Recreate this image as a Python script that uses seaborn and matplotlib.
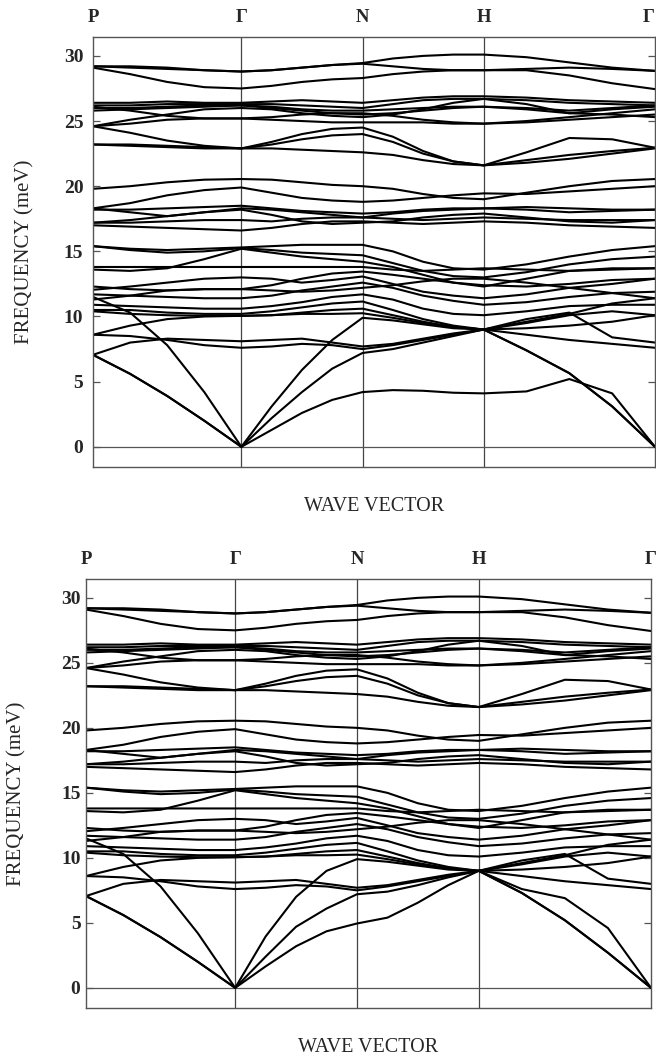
import numpy as np
import pandas as pd
import matplotlib
matplotlib.use("Agg")
import matplotlib.pyplot as plt
import seaborn as sns

# ---------------- data ----------------
k_labels = ["P", "Γ", "N", "H", "Γ"]
k_dist = [0.0, 0.866, 1.573, 2.280, 3.280]      # path length of high-symmetry points
y_ticks = [0, 5, 10, 15, 20, 25, 30]
n_per_segment = 4                                 # samples per segment (17 points per band)

# bands common to both panels (values at P,..,Γ,..,N,..,H,..,Γ), meV
upper_bands = [
    [29.2, 29.2, 29.1, 28.9, 28.8, 28.9, 29.1, 29.3, 29.45, 29.8, 30.0, 30.1, 30.1, 29.9, 29.5, 29.1, 28.85],
    [29.1, 28.6, 28.0, 27.6, 27.5, 27.7, 28.0, 28.2, 28.3, 28.6, 28.8, 28.9, 28.9, 28.9, 28.5, 27.9, 27.45],
    [29.2, 29.1, 29.0, 28.9, 28.8, 28.9, 29.1, 29.3, 29.4, 29.2, 29.0, 28.9, 28.9, 29.0, 29.1, 29.0, 28.85],
    [26.4, 26.4, 26.5, 26.4, 26.4, 26.5, 26.6, 26.5, 26.4, 26.6, 26.8, 26.9, 26.9, 26.8, 26.6, 26.5, 26.4],
    [26.2, 26.2, 26.3, 26.3, 26.3, 26.3, 26.2, 26.1, 26.0, 26.3, 26.6, 26.7, 26.7, 26.6, 26.4, 26.3, 26.2],
    [26.0, 26.0, 26.1, 26.2, 26.2, 26.1, 25.9, 25.8, 25.8, 25.9, 26.0, 26.1, 26.1, 26.0, 25.8, 26.0, 26.2],
    [25.8, 25.9, 26.0, 26.1, 26.2, 26.0, 25.8, 25.6, 25.5, 25.6, 25.8, 26.0, 26.1, 25.9, 25.6, 25.9, 26.1],
    [24.6, 25.1, 25.5, 25.9, 26.0, 25.9, 25.6, 25.4, 25.3, 25.5, 25.9, 26.4, 26.7, 26.3, 25.6, 25.5, 25.3],
    [24.6, 24.8, 25.1, 25.2, 25.2, 25.1, 25.0, 24.9, 24.9, 24.9, 24.9, 24.8, 24.8, 24.9, 25.1, 25.3, 25.5],
    [26.1, 25.8, 25.4, 25.2, 25.2, 25.3, 25.5, 25.6, 25.6, 25.4, 25.1, 24.9, 24.8, 25.0, 25.3, 25.6, 25.9],
    [24.6, 24.1, 23.5, 23.1, 22.9, 23.4, 24.0, 24.4, 24.5, 23.8, 22.7, 21.9, 21.6, 22.6, 23.7, 23.6, 22.95],
    [23.2, 23.2, 23.1, 23.0, 22.9, 23.2, 23.6, 23.9, 24.0, 23.4, 22.5, 21.9, 21.6, 22.0, 22.4, 22.7, 22.95],
    [23.2, 23.1, 23.0, 22.9, 22.9, 22.9, 22.8, 22.7, 22.6, 22.4, 22.0, 21.7, 21.6, 21.8, 22.1, 22.5, 22.9],
    [19.8, 20.0, 20.3, 20.5, 20.55, 20.5, 20.3, 20.1, 20.0, 19.8, 19.4, 19.1, 19.0, 19.5, 20.0, 20.4, 20.55],
    [18.3, 18.7, 19.3, 19.7, 19.9, 19.5, 19.1, 18.9, 18.8, 18.9, 19.1, 19.3, 19.45, 19.4, 19.6, 19.8, 20.0],
    [18.2, 18.2, 18.3, 18.4, 18.5, 18.3, 18.1, 18.0, 17.9, 18.0, 18.2, 18.3, 18.3, 18.2, 18.0, 18.1, 18.2],
    [18.3, 18.0, 17.7, 18.0, 18.3, 18.2, 18.0, 17.8, 17.6, 17.9, 18.1, 18.2, 18.3, 18.4, 18.3, 18.2, 18.2],
    [17.2, 17.4, 17.7, 18.0, 18.2, 17.8, 17.3, 17.1, 17.2, 17.3, 17.6, 17.8, 17.9, 17.6, 17.3, 17.2, 17.4],
    [17.0, 16.9, 16.8, 16.7, 16.6, 16.8, 17.1, 17.3, 17.3, 17.2, 17.1, 17.2, 17.3, 17.2, 17.0, 16.9, 16.8],
    [17.2, 17.2, 17.3, 17.4, 17.4, 17.3, 17.5, 17.6, 17.6, 17.5, 17.4, 17.5, 17.6, 17.5, 17.4, 17.4, 17.4],
]

middle_bands = [
    [15.4, 15.2, 15.1, 15.2, 15.3, 15.4, 15.5, 15.5, 15.5, 15.0, 14.2, 13.7, 13.6, 14.0, 14.6, 15.1, 15.4],
    [15.4, 15.1, 14.9, 15.0, 15.25, 15.1, 14.9, 14.8, 14.7, 14.1, 13.5, 13.1, 13.0, 13.4, 14.0, 14.4, 14.6],
    [13.6, 13.5, 13.7, 14.4, 15.2, 14.9, 14.6, 14.4, 14.2, 13.8, 13.2, 12.6, 12.3, 12.9, 13.5, 13.7, 13.7],
    [13.8, 13.8, 13.8, 13.8, 13.8, 13.8, 13.8, 13.8, 13.8, 13.6, 13.5, 13.6, 13.7, 13.6, 13.5, 13.6, 13.7],
    [12.3, 12.1, 12.0, 12.1, 12.1, 12.4, 12.9, 13.3, 13.45, 13.2, 12.9, 12.6, 12.4, 12.3, 12.5, 12.8, 12.9],
    [12.05, 12.3, 12.6, 12.9, 13.0, 12.9, 12.6, 12.8, 13.07, 12.5, 11.9, 11.6, 11.4, 11.7, 12.2, 12.5, 12.9],
    [11.7, 11.6, 11.5, 11.4, 11.4, 11.6, 12.0, 12.3, 12.6, 12.2, 11.6, 11.2, 10.9, 11.1, 11.5, 11.8, 11.9],
    [11.3, 11.6, 12.0, 12.1, 12.1, 12.0, 11.9, 12.0, 12.2, 12.4, 12.7, 12.9, 12.9, 12.6, 12.2, 11.8, 11.4],
    [10.9, 10.8, 10.7, 10.6, 10.6, 10.8, 11.1, 11.5, 11.7, 11.3, 10.6, 10.2, 10.1, 10.4, 10.8, 10.9, 10.9],
    [10.5, 10.5, 10.3, 10.2, 10.2, 10.4, 10.7, 11.0, 11.15, 10.5, 9.8, 9.3, 9.0, 9.5, 10.1, 10.4, 10.1],
    [10.4, 10.2, 10.1, 10.05, 10.05, 10.1, 10.3, 10.5, 10.6, 10.1, 9.6, 9.2, 9.0, 9.6, 10.2, 11.0, 11.4],
    [8.6, 9.3, 9.8, 10.0, 10.05, 10.1, 10.2, 10.2, 10.25, 9.9, 9.5, 9.2, 9.0, 9.1, 9.3, 9.6, 10.1],
    [8.6, 8.5, 8.2, 7.8, 7.6, 7.7, 7.9, 7.8, 7.5, 7.8, 8.2, 8.6, 9.0, 8.6, 8.2, 7.9, 7.6],
    [7.06, 8.0, 8.3, 8.2, 8.1, 8.2, 8.3, 8.0, 7.7, 7.9, 8.3, 8.7, 9.0, 9.8, 10.3, 8.4, 8.0],
]

# low-lying (acoustic) branches, which differ between the two panels
acoustic_top = [
    [7.06, 5.6, 3.9, 2.0, 0.0, 1.3, 2.6, 3.6, 4.2, 4.35, 4.3, 4.15, 4.1, 4.25, 5.2, 4.1, 0.0],
    [11.5, 10.3, 7.8, 4.2, 0.0, 3.1, 5.9, 8.2, 9.9, 9.7, 9.4, 9.1, 9.0, 7.4, 5.65, 3.1, 0.0],
    [7.06, 5.6, 3.9, 2.0, 0.0, 2.2, 4.2, 6.0, 7.2, 7.5, 8.0, 8.5, 9.0, 7.4, 5.65, 3.1, 0.0],
]
acoustic_bottom = [
    [7.06, 5.6, 3.9, 2.0, 0.0, 1.65, 3.2, 4.35, 4.95, 5.4, 6.55, 7.9, 9.0, 7.6, 6.9, 4.6, 0.0],
    [11.5, 10.3, 7.8, 4.2, 0.0, 3.95, 7.0, 9.0, 9.9, 9.7, 9.4, 9.1, 9.0, 7.3, 5.2, 2.7, 0.0],
    [7.06, 5.6, 3.9, 2.0, 0.0, 2.4, 4.7, 6.1, 7.2, 7.4, 7.9, 8.5, 9.0, 7.3, 5.2, 2.7, 0.0],
]

# ---------------- build ----------------
k_path = []
for a, b in zip(k_dist[:-1], k_dist[1:]):
    k_path.extend(np.linspace(a, b, n_per_segment + 1)[:-1])
k_path.append(k_dist[-1])
k_path = np.array(k_path)


def make_frame(bands):
    rows = []
    for i, band in enumerate(bands):
        for k, f in zip(k_path, band):
            rows.append({"k": k, "freq": f, "band": i})
    return pd.DataFrame(rows)


df_top = make_frame(upper_bands + middle_bands + acoustic_top)
df_bot = make_frame(upper_bands + middle_bands + acoustic_bottom)

sns.set_style("white")
plt.rcParams["font.family"] = ["Liberation Serif", "DejaVu Serif"]

fig = plt.figure(figsize=(6.56, 10.59), dpi=100)
ax_top = fig.add_axes([93 / 656, 1 - 467 / 1059, 562 / 656, 430 / 1059])
ax_bot = fig.add_axes([86 / 656, 1 - 1008 / 1059, 565 / 656, 429 / 1059])

frame_col = "#555555"
for ax, df, ypad in [(ax_top, df_top, 7), (ax_bot, df_bot, 4)]:
    sns.lineplot(data=df, x="k", y="freq", units="band", estimator=None,
                 color="black", lw=1.5, sort=False, ax=ax, legend=False)
    for kd in k_dist[1:-1]:
        ax.axvline(kd, color="#444444", lw=0.9, zorder=1)
    ax.axhline(0, color="#555555", lw=0.9, zorder=1)
    ax.set_xlim(k_dist[0], k_dist[-1])
    ax.set_ylim(-1.55, 31.45)
    ax.set_yticks(y_ticks)
    ax.set_yticklabels([str(t) for t in y_ticks], fontsize=14, fontweight="bold")
    ax.tick_params(axis="y", direction="in", left=True, right=True, length=5,
                   width=0.9, color=frame_col, pad=ypad)
    ax.xaxis.tick_top()
    ax.set_xticks(k_dist)
    ax.set_xticklabels(k_labels, fontsize=13.5, fontweight="bold")
    ax.tick_params(axis="x", length=0, pad=8, top=True, bottom=False)
    for sp in ax.spines.values():
        sp.set_visible(True)
        sp.set_color(frame_col)
        sp.set_linewidth(1.0)
    ax.set_ylabel("FREQUENCY (meV)", fontsize=15)
    ax.yaxis.set_label_coords(-0.105, 0.5)
    ax.set_xlabel("WAVE VECTOR", fontsize=14.5)
    ax.xaxis.set_label_position("bottom")
    ax.xaxis.set_label_coords(0.5, -0.07)

# the right-hand Γ of the upper panel sits at the figure edge: keep it inside
ax_top.get_xticklabels()[-1].set_horizontalalignment("right")

fig.savefig("out.png", dpi=100)
